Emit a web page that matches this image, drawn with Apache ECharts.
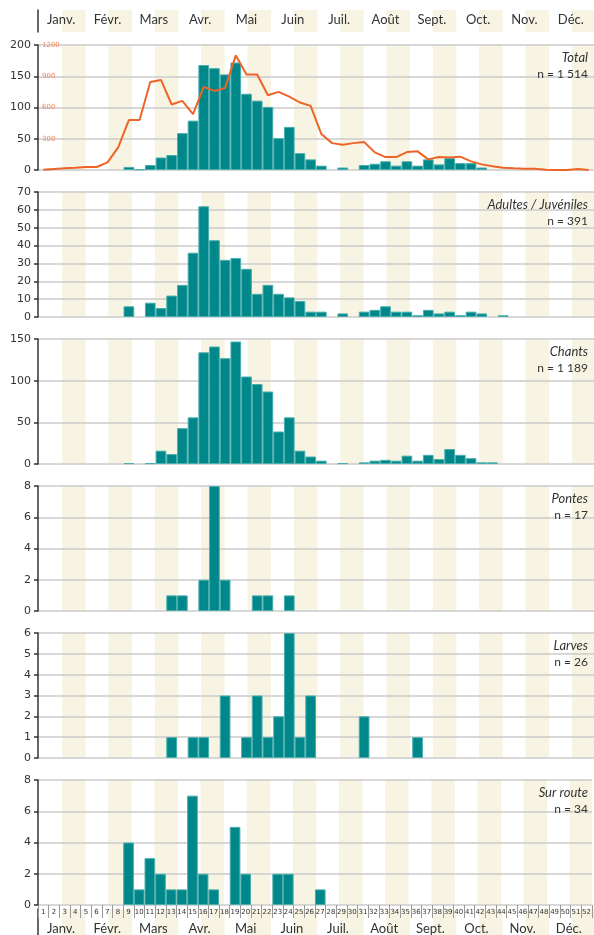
<!DOCTYPE html>
<html>
<head>
<meta charset="utf-8">
<script src="https://cdn.jsdelivr.net/npm/echarts@6/dist/echarts.min.js"></script>
<style>
  html, body { margin: 0; padding: 0; background: #fff; }
  #chart { width: 594px; height: 935px; }
</style>
</head>
<body>
<div id="chart"></div>
<script>
// semaines et mois
const weekLabels = ['1','2','3','4','5','6','7','8','9','10','11','12','13','14','15','16','17','18','19','20',
  '21','22','23','24','25','26','27','28','29','30','31','32','33','34','35','36','37','38','39','40',
  '41','42','43','44','45','46','47','48','49','50','51','52'];
const monthLabels = ['Janv.', 'Févr.', 'Mars', 'Avr.', 'Mai', 'Juin', 'Juil.', 'Août', 'Sept.', 'Oct.', 'Nov.', 'Déc.'];

// effectifs par semaine
const totalCounts = [0,0,0,0,0,0,0,0,5,1, 8,20,24,59,79,168,163,153,172,122,
  111,101,51,69,27,17,7,0,4,0, 8,10,14,7,14,7,17,9,19,11, 11,4,0,0,0,0,0,0,0,0, 0,0];
const totalLine = [3,10,16,22,29,29,73,217,479,479, 845,865,629,664,536,798,759,788,1100,916,
  916,718,750,705,648,616,345,258,242,258, 268,169,124,124,172,179,102,124,121,128,
  83,54,35,22,16,13,13,3,0,0, 10,0];
const adultCounts = [0,0,0,0,0,0,0,0,6,0, 8,5,12,18,36,62,43,32,33,27,
  13,18,13,11,9,3,3,0,2,0, 3,4,6,3,3,1,4,2,3,1, 3,2,0,1,0,0,0,0,0,0, 0,0];
const songCounts = [0,0,0,0,0,0,0,0,1,0, 1,16,12,43,56,134,141,127,147,105,
  96,87,39,56,16,9,4,0,1,0, 2,4,5,4,10,4,11,6,18,11, 7,2,2,0,0,0,0,0,0,0, 0,0];
const clutchCounts = [0,0,0,0,0,0,0,0,0,0, 0,0,1,1,0,2,8,2,0,0,
  1,1,0,1,0,0,0,0,0,0, 0,0,0,0,0,0,0,0,0,0, 0,0,0,0,0,0,0,0,0,0, 0,0];
const larvaCounts = [0,0,0,0,0,0,0,0,0,0, 0,0,1,0,1,1,0,3,0,1,
  3,1,2,6,1,3,0,0,0,0, 2,0,0,0,0,1,0,0,0,0, 0,0,0,0,0,0,0,0,0,0, 0,0];
const roadCounts = [0,0,0,0,0,0,0,0,4,1, 3,2,1,1,7,2,1,0,5,2,
  0,0,2,2,0,0,1,0,0,0, 0,0,0,0,0,0,0,0,0,0, 0,0,0,0,0,0,0,0,0,0, 0,0];

const panelNames = ['Total', 'Adultes / Juvéniles', 'Chants', 'Pontes', 'Larves', 'Sur route'];
const panelN = ['n = 1 514', 'n = 391', 'n = 1 189', 'n = 17', 'n = 26', 'n = 34'];
const panelData = [totalCounts, adultCounts, songCounts, clutchCounts, larvaCounts, roadCounts];
const panelMax = [200, 70, 150, 8, 6, 8];
const panelStep = [50, 10, 50, 2, 1, 2];
const lineTicks = [0, 1200, 300];

const tops = [45, 192, 339, 486, 633, 780];
const panelHeight = 125;
const teal = '#00878a';
const orange = '#ee6427';
const beige = '#f8f4e4';
const txt = '#333';

const bands = monthLabels.map((m, i) => [i + 0.52, Math.min(12, i + 1.03)]);

function renderBand(params, api) {
  const a = api.coord([api.value(0), 0]);
  const b = api.coord([api.value(1), 0]);
  const cs = params.coordSys;
  return {
    type: 'rect',
    shape: { x: a[0], y: cs.y, width: b[0] - a[0], height: cs.height },
    style: { fill: beige },
  };
}

const grid = [];
const xAxis = [];
const yAxis = [];
const series = [];

function addBands(gridIndex, yIdx) {
  xAxis.push({ gridIndex, type: 'value', min: 0, max: 12, show: false });
  series.push({
    type: 'custom', renderItem: renderBand, data: bands, z: -1, silent: true,
    xAxisIndex: xAxis.length - 1, yAxisIndex: yIdx,
  });
}

panelData.forEach((data, i) => {
  grid.push({ left: 38, right: 0, top: tops[i], height: panelHeight });
  const last = i === panelData.length - 1;
  xAxis.push({
    gridIndex: i, type: 'category', data: weekLabels, boundaryGap: true,
    axisLine: { show: false },
    axisTick: { show: last, interval: 0, length: 13, lineStyle: { color: '#999', width: 1 } },
    axisLabel: { show: last, interval: 0, fontSize: 7, margin: 4, color: txt, fontFamily: 'DejaVu Sans' },
  });
  const weekAxis = xAxis.length - 1;
  yAxis.push({
    gridIndex: i, type: 'value', min: 0, max: panelMax[i], interval: panelStep[i],
    axisLine: { show: true, lineStyle: { color: txt, width: 1.5 } },
    axisTick: { show: true, length: 4, lineStyle: { color: txt, width: 1.5 } },
    axisLabel: { color: txt, fontSize: 11, margin: 7, fontFamily: 'DejaVu Sans' },
    splitLine: { show: true, lineStyle: { color: '#cbcbcb', width: 1.5 } },
  });
  const yIdx = yAxis.length - 1;
  addBands(i, yIdx);
  series.push({
    type: 'bar', xAxisIndex: weekAxis, yAxisIndex: yIdx,
    data: data.map(v => (v === 0 ? '-' : v)),
    barCategoryGap: '0%',
    itemStyle: { color: teal, borderColor: '#48aeae', borderWidth: 1 },
  });
  if (i === 0) {
    yAxis.push({
      gridIndex: 0, type: 'value', position: 'left',
      min: lineTicks[0], max: lineTicks[1], interval: lineTicks[2],
      axisLine: { show: false }, axisTick: { show: false }, splitLine: { show: false },
      axisLabel: {
        inside: true, showMinLabel: false, fontSize: 7, margin: 4, color: '#f28a5e',
        fontFamily: 'DejaVu Sans', formatter: v => String(v),
      },
    });
    series.push({
      type: 'line', xAxisIndex: weekAxis, yAxisIndex: yAxis.length - 1,
      data: totalLine, showSymbol: false, symbol: 'none', z: 3,
      lineStyle: { color: orange, width: 2 },
    });
  }
  if (last) {
    xAxis.push({
      gridIndex: i, type: 'category', data: monthLabels, position: 'bottom', offset: 17,
      axisLine: { show: false }, axisTick: { show: false },
      axisLabel: { interval: 0, fontSize: 13, margin: 0, color: txt, fontFamily: 'Lato' },
    });
  }
});

// en-tête et pied : bandes des mois
const frameAxis = (gridIndex) => ({
  gridIndex, type: 'value', min: 0, max: 1,
  axisLine: { show: true, lineStyle: { color: txt, width: 1.5 } },
  axisTick: { show: false }, axisLabel: { show: false }, splitLine: { show: false },
});

grid.push({ left: 38, right: 0, top: 10, height: 22 });
yAxis.push(frameAxis(6));
addBands(6, yAxis.length - 1);
xAxis.push({
  gridIndex: 6, type: 'category', data: monthLabels, position: 'bottom',
  axisLine: { show: false }, axisTick: { show: false },
  axisLabel: { interval: 0, fontSize: 13, margin: -19, color: txt, fontFamily: 'Lato' },
});

grid.push({ left: 38, right: 0, top: 909, height: 26 });
yAxis.push(frameAxis(7));
addBands(7, yAxis.length - 1);

const title = panelNames.map((name, i) => ({
  text: name,
  subtext: panelN[i],
  left: 588,
  top: tops[i] + 6,
  textAlign: 'right',
  itemGap: 4,
  padding: 0,
  textStyle: { fontFamily: 'Lato', fontStyle: 'italic', fontWeight: 'normal', fontSize: 13, color: txt },
  subtextStyle: { fontFamily: 'Lato', fontSize: 12, color: txt },
}));

const chart = echarts.init(document.getElementById('chart'));
chart.setOption({
  animation: false,
  title,
  grid,
  xAxis,
  yAxis,
  series,
});
</script>
</body>
</html>
